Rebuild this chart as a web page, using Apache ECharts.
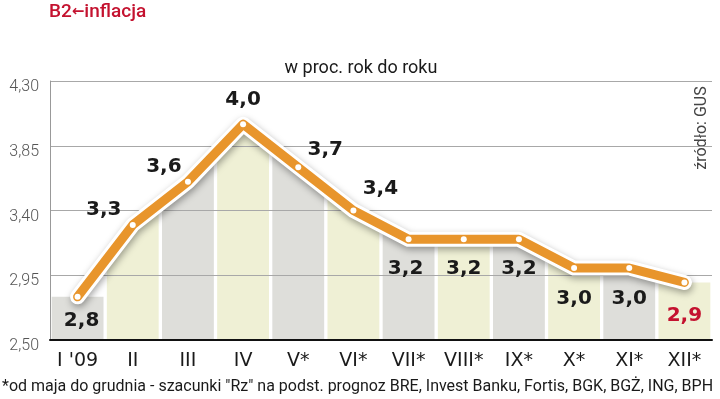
<!DOCTYPE html>
<html><head><meta charset="utf-8">
<script src="https://cdn.jsdelivr.net/npm/echarts@6/dist/echarts.min.js"></script>
<style>html,body{margin:0;padding:0;background:#fff}#c{width:720px;height:399px}</style>
</head><body><div id="c"></div>
<script>
const categories = ["I '09","II","III","IV","V*","VI*","VII*","VIII*","IX*","X*","XI*","XII*"];
const inflation = [2.8,3.3,3.6,4.0,3.7,3.4,3.2,3.2,3.2,3.0,3.0,2.9];
const yTicks = [2.50,2.95,3.40,3.85,4.30];
const source = "źródło: GUS";
const subtitle = "w proc. rok do roku";
const footnote = "*od maja do grudnia - szacunki \"Rz\" na podst. prognoz BRE, Invest Banku, Fortis, BGK, BGŻ, ING, BPH";
// label placement (pixels relative to point)
const labelOffsets = [[4,24],[-29,-15],[-24,-15],[0,-24],[27,-18],[27,-22],[-3,30],[0,30],[0,30],[0,31],[0,31],[0,33]];

const RED = '#c4122f';
const n = inflation.length;
// stripes under the line: tall enough to reach the line, trimmed by the white mask above it
const stripeTops = inflation.map((v,i)=> (i===0||i===n-1) ? v : Math.max(inflation[i-1], v, inflation[i+1]));
const chart = echarts.init(document.getElementById('c'));
const lineData = inflation.map((v,i)=>({
  value: v,
  label: {offset: labelOffsets[i], color: i === n-1 ? RED : '#1a1a1a'}
}));
chart.setOption({
  animation:false,
  grid:{left:50,right:8,top:81,bottom:59},
  xAxis:{type:'category',data:categories,boundaryGap:true,
    axisTick:{show:false},
    axisLine:{lineStyle:{color:'#111',width:2}},
    axisLabel:{fontFamily:'DejaVu Sans',fontSize:19,color:'#1a1a1a',margin:12},
    z:6
  },
  yAxis:[
    {type:'value',min:yTicks[0],max:yTicks[yTicks.length-1],show:false},
    {type:'value',min:0,max:yTicks.length-1,interval:1,position:'left',z:3,
     axisLine:{show:true,lineStyle:{color:'#999',width:1}},
     axisTick:{show:false},
     splitLine:{lineStyle:{color:'#a8a8a8',width:1}},
     axisLabel:{fontFamily:'Roboto',fontWeight:300,fontSize:16,color:'#555',margin:11,
       verticalAlign:'top',lineHeight:12,
       formatter:v=>yTicks[v]!==undefined?yTicks[v].toFixed(2).replace('.',','):''}
    }
  ],
  series:[
    {type:'bar',data:stripeTops,yAxisIndex:0,barCategoryGap:'6%',z:1,clip:true,silent:true,
     itemStyle:{color:p=>p.dataIndex%2===0?'#dededa':'#eff0d5'}},
    {type:'line',data:inflation,yAxisIndex:0,z:2,symbol:'none',silent:true,
     lineStyle:{width:0},areaStyle:{color:'#ffffff',opacity:1,origin:'end'}},
    {type:'line',data:inflation,yAxisIndex:0,z:4,symbol:'none',silent:true,
     lineStyle:{color:'#ffffff',width:15,join:'round',cap:'round',
       shadowColor:'rgba(0,0,0,0.35)',shadowBlur:7,shadowOffsetX:1,shadowOffsetY:3}},
    {type:'line',data:lineData,yAxisIndex:0,z:5,symbol:'circle',symbolSize:6,
     lineStyle:{color:'#e8952c',width:9,join:'round',cap:'round'},
     itemStyle:{color:'#ffffff',borderWidth:0},
     label:{show:true,position:'inside',fontFamily:'DejaVu Sans',fontWeight:'bold',fontSize:20,
       formatter:p=>p.value.toFixed(1).replace('.',',')}
    }
  ],
  graphic:[
    {type:'text',left:49,top:3,style:{text:'{a|B2}{b|\u2190}{a|inflacja}',
      rich:{a:{fontFamily:'Roboto',fontSize:19,fontWeight:500,fill:RED,color:RED},b:{fontFamily:'DejaVu Sans',fontSize:15,fontWeight:'bold',color:RED,fill:RED}}}},
    {type:'text',x:361,y:68,style:{text:subtitle,font:'18px Roboto',fill:'#1a1a1a',align:'center',verticalAlign:'middle'}},
    {type:'text',x:702,y:128,rotation:Math.PI/2,style:{text:source,font:'16px Roboto',fill:'#444',align:'center',verticalAlign:'middle'}},
    {type:'text',left:2,top:379,style:{text:footnote,font:'16px Roboto',fill:'#1a1a1a'}}
  ]
});
</script></body></html>
